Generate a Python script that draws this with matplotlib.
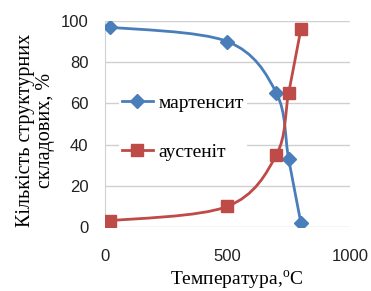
import numpy as np
import matplotlib
matplotlib.use("Agg")
import matplotlib.pyplot as plt
from matplotlib.path import Path
from matplotlib.patches import PathPatch
from matplotlib.lines import Line2D
from matplotlib.font_manager import FontProperties

temperature = [20, 500, 700, 750, 800]
martensite = [97, 90, 65, 33, 2]
austenite = [3, 10, 35, 65, 96]
xticks = [0, 500, 1000]
yticks = [0, 20, 40, 60, 80, 100]

BLUE = "#4a7ebb"
RED = "#be4b48"

plt.rcParams["font.family"] = ["Liberation Serif", "DejaVu Serif"]
plt.rcParams["mathtext.fontset"] = "custom"
plt.rcParams["mathtext.rm"] = "Liberation Serif"


def smooth_path(xs, ys, t=1/6):
    # Excel-like smoothing: cubic Bezier through data points (Catmull-Rom control points)
    pts = np.column_stack([xs, ys]).astype(float)
    verts = [tuple(pts[0])]
    codes = [Path.MOVETO]
    n = len(pts)
    for i in range(n - 1):
        p0 = pts[i - 1] if i > 0 else pts[i]
        p1 = pts[i]
        p2 = pts[i + 1]
        p3 = pts[i + 2] if i + 2 < n else pts[i + 1]
        c1 = p1 + (p2 - p0) * t
        c2 = p2 - (p3 - p1) * t
        verts += [tuple(c1), tuple(c2), tuple(p2)]
        codes += [Path.CURVE4] * 3
    return Path(verts, codes)


fig = plt.figure(figsize=(3.71, 2.91), dpi=100)
ax = fig.add_axes([0.283, 0.22, 0.66, 0.708])

ax.set_xlim(0, 1000)
ax.set_ylim(0, 100)
ax.set_xticks(xticks)
ax.set_yticks(yticks)
ax.grid(axis="y", color="#d0d0d0", linewidth=1.0)
ax.set_axisbelow(True)
for s in ax.spines.values():
    s.set_visible(False)
ax.spines["left"].set_visible(True)
ax.spines["left"].set_color("#d0d0d0")
ax.tick_params(length=0, labelsize=12)
ax.tick_params(axis="y", pad=12)
ax.tick_params(axis="x", pad=16)
for lab in ax.get_xticklabels() + ax.get_yticklabels():
    lab.set_fontfamily("Liberation Sans")
    lab.set_color("#222222")

for ys, col, mk, ms in [(martensite, BLUE, "D", 7), (austenite, RED, "s", 9)]:
    ax.add_patch(PathPatch(smooth_path(temperature, ys), facecolor="none",
                           edgecolor=col, linewidth=2, zorder=3))
    ax.plot(temperature, ys, linestyle="none", marker=mk, markersize=ms,
            color=col, zorder=4)

handles = [Line2D([], [], color=BLUE, marker="D", markersize=7, linewidth=2),
           Line2D([], [], color=RED, marker="s", markersize=9, linewidth=2)]
leg = ax.legend(handles, ["мартенсит", "аустеніт"], loc="upper left",
                bbox_to_anchor=(0.017, 0.705), frameon=True, fancybox=False,
                edgecolor="none", framealpha=1, handlelength=1.6,
                labelspacing=1.6, borderpad=0.15, handletextpad=0.3,
                prop=FontProperties(family="Liberation Serif", size=14))

fig.text(0.638, 0.037, "Температура,$^{\\mathrm{o}}$C", ha="center",
         va="center", family="Liberation Serif", fontsize=14)
fig.text(0.095, 0.553, "Кількість структурних\nскладових, %", rotation=90,
         ha="center", va="center", family="Liberation Serif", fontsize=14.5,
         linespacing=1.05)

fig.savefig("out.png", dpi=100)
